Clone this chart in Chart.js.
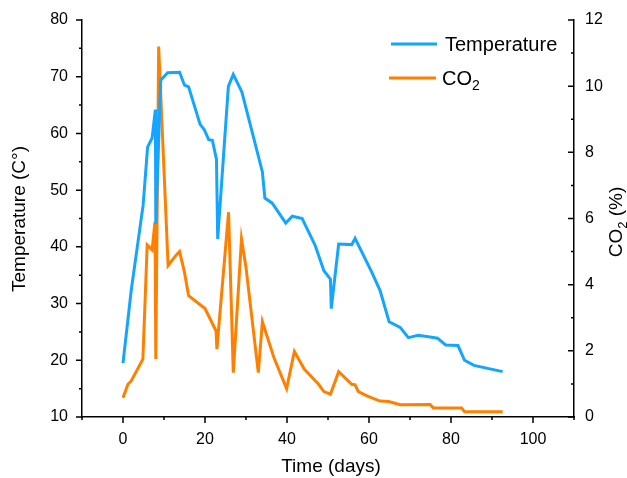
<!DOCTYPE html>
<html>
<head>
<meta charset="utf-8">
<script src="https://cdn.jsdelivr.net/npm/chart.js@4.4.0/dist/chart.umd.min.js"></script>
<style>
    html, body { margin: 0; padding: 0; background: #ffffff; }
    #chart { display: block; }
</style>
</head>
<body>
<canvas id="chart" width="627" height="478"></canvas>
<script>
// data
const tempDays = [0, 2.0, 4.9, 6.0, 7.1, 7.9, 8.0, 9.2, 10.9, 13.8, 15.0, 16.0, 18.8, 19.8, 20.9, 21.8, 22.8, 23.1,
    25.7, 26.9, 29.0, 34.0, 34.6, 36.4, 39.7, 41.3, 43.7, 46.9, 49.0, 50.6, 50.8, 52.6, 55.8, 56.6,
    60.7, 62.7, 64.9, 67.6, 69.6, 72.0, 74.9, 76.7, 78.7, 81.7, 83.3, 85.6, 92.6];
const tempValues = [19.5, 32.3, 47.3, 57.6, 59.2, 64.2, 44.1, 69.4, 70.7, 70.8, 68.5, 68.2, 61.6, 60.7, 58.9, 58.8, 55.4, 41.4,
    68.3, 70.4, 67.3, 53.2, 48.6, 47.7, 44.2, 45.4, 45.0, 40.2, 35.8, 34.3, 29.1, 40.5, 40.4, 41.5,
    35.5, 32.3, 26.8, 25.8, 24.0, 24.4, 24.1, 23.9, 22.7, 22.6, 20.0, 19.1, 18.0];

const co2Days = [0, 1.2, 2.0, 4.85, 5.9, 7.1, 7.8, 8.0, 8.7, 11.0, 13.0, 13.8, 15.0, 16.0, 20.0, 22.7, 22.9,
    25.75, 26.9, 28.9, 30.0, 33.0, 34.0, 36.8, 39.9, 41.8, 44.2, 47.7, 49.0, 50.6, 52.6, 55.8, 56.6, 57.4,
    59.5, 62.7, 64.8, 67.6, 74.9, 75.7, 82.6, 83.3, 92.6];
const co2Values = [0.58, 0.99, 1.09, 1.75, 5.2, 5.05, 5.9, 1.75, 11.2, 4.58, 4.9, 5.0, 4.37, 3.67, 3.28, 2.6, 2.05,
    6.19, 1.34, 5.38, 4.52, 1.34, 2.88, 1.8, 0.86, 1.98, 1.45, 0.99, 0.77, 0.69, 1.37, 0.99, 0.97, 0.77,
    0.64, 0.48, 0.47, 0.37, 0.38, 0.27, 0.27, 0.16, 0.16];

const xRange = [-10, 110];
const tempRange = [10, 80];
const co2Range = [0, 12];

const blue = 'rgb(20, 165, 255)';
const orange = 'rgb(255, 128, 0)';
const fontFamily = '"Liberation Sans", Arial, sans-serif';

function toPoints(xs, ys) {
    return xs.map((x, i) => ({ x: x, y: ys[i] }));
}

// tick marks (major + minor), axis titles and legend
const decorations = {
    id: 'decorations',
    afterDraw(chart) {
        const ctx = chart.ctx;
        const area = chart.chartArea;
        const xs = chart.scales.x;
        const yT = chart.scales.y;
        const yC = chart.scales.y1;

        ctx.save();
        ctx.strokeStyle = '#000';
        ctx.lineWidth = 1.5;
        ctx.beginPath();
        for (let v = xRange[0]; v <= xRange[1]; v += 10) {
            const px = xs.getPixelForValue(v);
            const len = v % 20 === 0 ? 6 : 3;
            ctx.moveTo(px, area.bottom);
            ctx.lineTo(px, area.bottom + len);
        }
        for (let v = tempRange[0]; v <= tempRange[1]; v += 5) {
            const py = yT.getPixelForValue(v);
            const len = v % 10 === 0 ? 6 : 3;
            ctx.moveTo(area.left - len, py);
            ctx.lineTo(area.left, py);
        }
        for (let v = co2Range[0]; v <= co2Range[1]; v += 1) {
            const py = yC.getPixelForValue(v);
            const len = v % 2 === 0 ? 6 : 3;
            ctx.moveTo(area.right - len, py);
            ctx.lineTo(area.right, py);
        }
        ctx.stroke();

        // axis titles
        ctx.fillStyle = '#000';
        ctx.font = '19px ' + fontFamily;
        ctx.textAlign = 'center';
        ctx.textBaseline = 'middle';
        ctx.fillText('Time (days)', 331, 467);

        ctx.save();
        ctx.translate(20, 219);
        ctx.rotate(-Math.PI / 2);
        ctx.fillText('Temperature (C°)', 0, 0);
        ctx.restore();

        ctx.save();
        ctx.translate(617, 222);
        ctx.rotate(-Math.PI / 2);
        ctx.textAlign = 'left';
        const w1 = ctx.measureText('CO').width;
        ctx.font = '13px ' + fontFamily;
        const w2 = ctx.measureText('2').width;
        ctx.font = '19px ' + fontFamily;
        const w3 = ctx.measureText(' (%)').width;
        let start = -(w1 + w2 + w3) / 2;
        ctx.fillText('CO', start, 0);
        ctx.font = '13px ' + fontFamily;
        ctx.fillText('2', start + w1, 6);
        ctx.font = '19px ' + fontFamily;
        ctx.fillText(' (%)', start + w1 + w2, 0);
        ctx.restore();

        // legend
        ctx.lineWidth = 3;
        ctx.strokeStyle = blue;
        ctx.beginPath();
        ctx.moveTo(391, 44);
        ctx.lineTo(437, 44);
        ctx.stroke();
        ctx.strokeStyle = orange;
        ctx.beginPath();
        ctx.moveTo(389, 78);
        ctx.lineTo(436, 78);
        ctx.stroke();

        ctx.textAlign = 'left';
        ctx.font = '20px ' + fontFamily;
        ctx.fillText('Temperature', 445, 45);
        ctx.fillText('CO', 442, 79);
        const wc = ctx.measureText('CO').width;
        ctx.font = '14px ' + fontFamily;
        ctx.fillText('2', 442 + wc, 86);
        ctx.restore();
    }
};

const ctx = document.getElementById('chart').getContext('2d');
const chart = new Chart(ctx, {
    type: 'scatter',
    data: {
        datasets: [
            {
                label: 'Temperature',
                data: toPoints(tempDays, tempValues),
                showLine: true,
                borderColor: blue,
                borderWidth: 3,
                pointRadius: 0,
                yAxisID: 'y'
            },
            {
                label: 'CO2',
                data: toPoints(co2Days, co2Values),
                showLine: true,
                borderColor: orange,
                borderWidth: 3,
                pointRadius: 0,
                yAxisID: 'y1'
            }
        ]
    },
    options: {
        responsive: false,
        animation: false,
        layout: { padding: { top: 20, left: 0, right: 0, bottom: 0 } },
        plugins: {
            legend: { display: false },
            tooltip: { enabled: false }
        },
        scales: {
            x: {
                type: 'linear',
                min: xRange[0],
                max: xRange[1],
                afterFit: function(scale) { scale.height = 61; },
                grid: { display: false },
                border: { display: true, color: '#000', width: 1.5 },
                ticks: {
                    stepSize: 10,
                    autoSkip: false,
                    maxRotation: 0,
                    padding: 5,
                    color: '#000',
                    font: { family: fontFamily, size: 16 },
                    callback: function(value) {
                        return (value % 20 === 0 && value >= 0 && value <= 100) ? value : '';
                    }
                }
            },
            y: {
                type: 'linear',
                position: 'left',
                min: tempRange[0],
                max: tempRange[1],
                afterFit: function(scale) { scale.width = 82; },
                grid: { display: false },
                border: { display: true, color: '#000', width: 1.5 },
                ticks: {
                    stepSize: 10,
                    autoSkip: false,
                    padding: 6,
                    color: '#000',
                    font: { family: fontFamily, size: 16 }
                }
            },
            y1: {
                type: 'linear',
                position: 'right',
                min: co2Range[0],
                max: co2Range[1],
                afterFit: function(scale) { scale.width = 53; },
                grid: { display: false },
                border: { display: true, color: '#000', width: 1.5 },
                ticks: {
                    stepSize: 2,
                    autoSkip: false,
                    padding: 3,
                    color: '#000',
                    font: { family: fontFamily, size: 16 }
                }
            }
        }
    },
    plugins: [decorations]
});
</script>
</body>
</html>
